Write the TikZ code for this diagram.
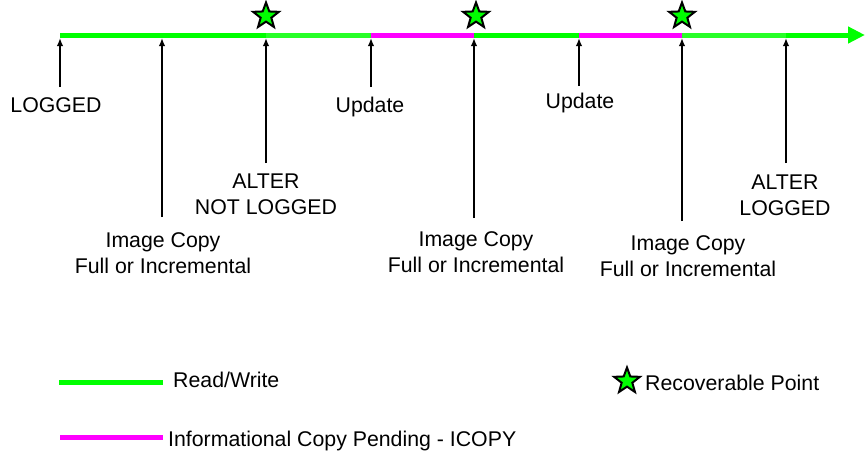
\documentclass[tikz,border=0pt]{standalone}
\usepackage{fontspec}
\setmainfont{Liberation Sans}
\usetikzlibrary{arrows.meta,shapes.geometric}
\definecolor{rwgreen}{RGB}{0,255,0}
\definecolor{rwgreenlt}{RGB}{40,255,40}
\definecolor{icmag}{RGB}{255,0,255}
\tikzset{
  lbl/.style={font=\fontsize{21.3}{25.5}\selectfont, inner sep=0pt, anchor=base, align=center},
  tick/.style={line width=2.5pt, -{Latex[length=8pt,width=6.5pt]}},
  seg/.style={line width=5pt, line cap=butt},
  rstar/.style={star, star points=5, star point ratio=2.4, minimum size=#1, inner sep=0pt, draw=black, line width=2pt, fill=rwgreen},
}
\begin{document}
\begin{tikzpicture}[x=1pt,y=-1pt]
\useasboundingbox (0,0) rectangle (865,456);
% timeline points
\coordinate (t0) at (60,35);
\coordinate (t1) at (162,35);
\coordinate (t2) at (266,35);
\coordinate (t3) at (371,35);
\coordinate (t4) at (474,35);
\coordinate (t5) at (579,35);
\coordinate (t6) at (682,35);
\coordinate (t7) at (786,35);
\coordinate (tend) at (865,35);
% timeline
\draw[seg, rwgreen] (t0) -- (t2);
\draw[seg, rwgreenlt] (t2) -- (t3);
\draw[seg, icmag] (t3) -- (t4);
\draw[seg, rwgreen] (t4) -- (t5);
\draw[seg, icmag] (t5) -- (t6);
\draw[seg, rwgreenlt] (t6) -- (t7);
\draw[seg, rwgreen, -{Triangle[length=17pt,width=16pt]}] (t7) -- (tend);
% stars
\node[rstar=27pt] (s1) at (266,16) {};
\node[rstar=27pt] (s2) at (476,16) {};
\node[rstar=27pt] (s3) at (682,16) {};
% tick top ends
\coordinate (a0) at (60,38);
\coordinate (a1) at (162,38);
\coordinate (a2) at (266,38);
\coordinate (a3) at (371,38);
\coordinate (a4) at (474,38);
\coordinate (a5) at (579,38);
\coordinate (a6) at (682,38);
\coordinate (a7) at (786,38);
% tick bottom ends
\coordinate (b0) at (60,87);
\coordinate (b1) at (162,217);
\coordinate (b2) at (266,163);
\coordinate (b3) at (371,87);
\coordinate (b4) at (474,218);
\coordinate (b5) at (579,86);
\coordinate (b6) at (682,221);
\coordinate (b7) at (786,163);
\foreach \i in {0,...,7} { \draw[tick] (b\i) -- (a\i); }
% labels (base anchor = baseline of last line)
\node[lbl] (l0) at (56,112) {LOGGED};
\node[lbl] (l1) at (163,273) {Image Copy\\Full or Incremental};
\node[lbl] (l2) at (266,214) {ALTER\\NOT LOGGED};
\node[lbl] (l3) at (370,112) {Update};
\node[lbl] (l4) at (476,272) {Image Copy\\Full or Incremental};
\node[lbl] (l5) at (580,108) {Update};
\node[lbl] (l6) at (688,276) {Image Copy\\Full or Incremental};
\node[lbl] (l7) at (785,215) {ALTER\\LOGGED};
% legend
\coordinate (g0) at (59,382);
\coordinate (g1) at (163,382);
\coordinate (m0) at (60,437);
\coordinate (m1) at (163,437);
\draw[seg, rwgreen] (g0) -- (g1);
\draw[seg, icmag] (m0) -- (m1);
\node[lbl, anchor=base west] (lg1) at (173,387) {Read/Write};
\node[lbl, anchor=base west] (lg2) at (168,446) {Informational Copy Pending - ICOPY};
\node[rstar=27pt] (lgs) at (627,381) {};
\node[lbl, anchor=base west] (lg3) at (645,390) {Recoverable Point};
\end{tikzpicture}
\end{document}
